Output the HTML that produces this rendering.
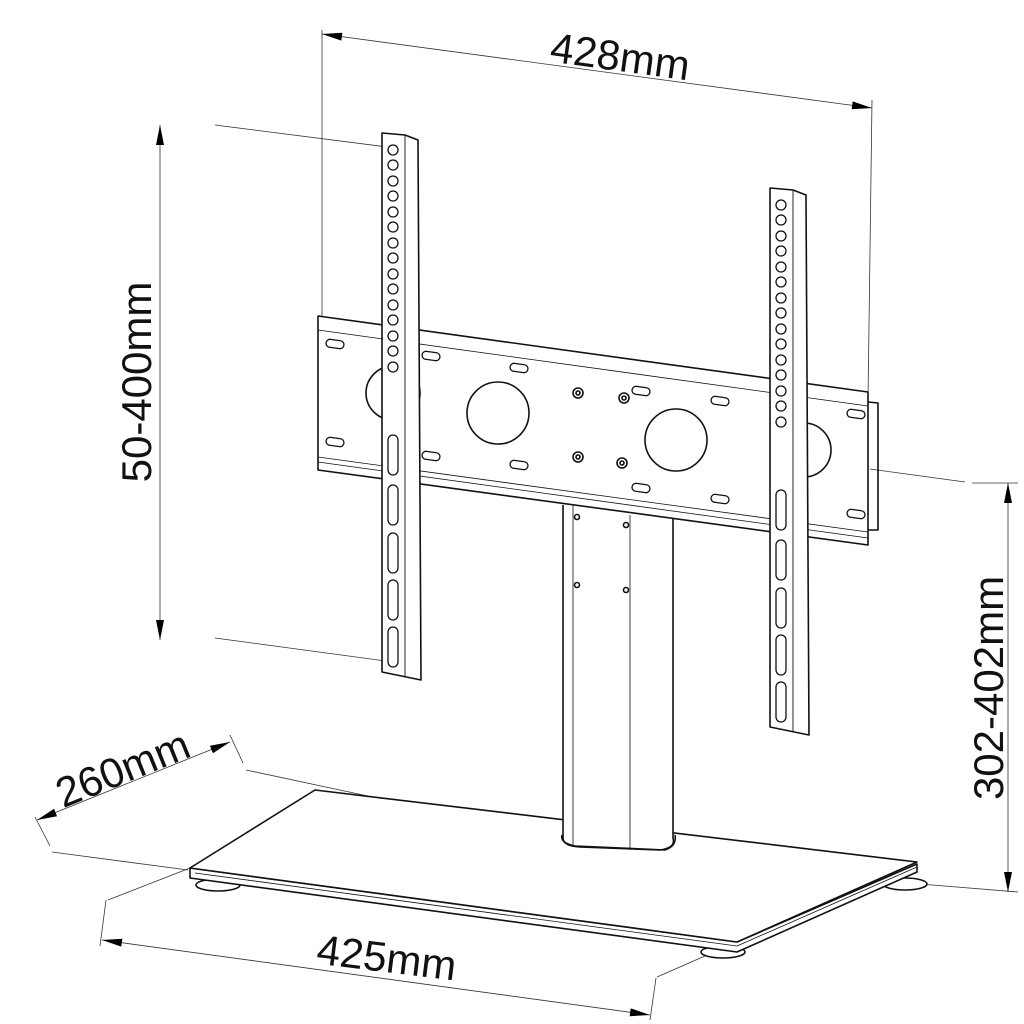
<!DOCTYPE html>
<html><head><meta charset="utf-8"><style>
html,body{margin:0;padding:0;background:#fff;width:1024px;height:1024px;overflow:hidden}
svg{display:block}
text{font-family:"Liberation Sans",sans-serif;fill:#111}
</style></head><body>
<svg width="1024" height="1024" viewBox="0 0 1024 1024" xmlns="http://www.w3.org/2000/svg">
<defs>
<marker id="a" viewBox="0 0 20 8" refX="20" refY="4" markerWidth="22" markerHeight="8" markerUnits="userSpaceOnUse" orient="auto-start-reverse"><path d="M0,0 L20,4 L0,8 z" fill="#000"/></marker>
</defs>
<g stroke="#333" stroke-width="0.8" fill="none">
<line x1="322" y1="30" x2="322" y2="320"/>
<line x1="872" y1="100" x2="868" y2="400"/>
<line x1="322" y1="34" x2="872" y2="108" marker-start="url(#a)" marker-end="url(#a)"/>
<line x1="215" y1="125" x2="395" y2="148"/>
<line x1="215" y1="638" x2="393" y2="662"/>
<line x1="160" y1="125" x2="160" y2="640" marker-start="url(#a)" marker-end="url(#a)"/>
<line x1="870" y1="469" x2="965" y2="482"/>
<line x1="972" y1="483" x2="1018" y2="483"/>
<line x1="920" y1="884" x2="1018" y2="892"/>
<line x1="1008" y1="483" x2="1008" y2="892" marker-start="url(#a)" marker-end="url(#a)"/>
<line x1="35" y1="817" x2="50" y2="846"/>
<line x1="230" y1="735" x2="243" y2="763"/>
<line x1="52" y1="852" x2="188" y2="870"/>
<line x1="246" y1="770" x2="443" y2="812"/>
<line x1="37" y1="820" x2="230" y2="742" marker-start="url(#a)" marker-end="url(#a)"/>
<line x1="106" y1="900" x2="100" y2="946"/>
<line x1="108" y1="900" x2="190" y2="868"/>
<line x1="657" y1="977" x2="730" y2="945"/>
<line x1="656" y1="978" x2="650" y2="1020"/>
<line x1="102" y1="940" x2="650" y2="1015" marker-start="url(#a)" marker-end="url(#a)"/>
</g>
<text x="620" y="71" font-size="42" text-anchor="middle" transform="rotate(7.8 620 58)">428mm</text>
<text x="0" y="0" font-size="42" text-anchor="middle" transform="translate(151 382) rotate(-90)">50-400mm</text>
<text x="0" y="0" font-size="42" text-anchor="middle" transform="translate(1003 688) rotate(-90)">302-402mm</text>
<text x="0" y="0" font-size="42" text-anchor="middle" transform="translate(128 782) rotate(-22)">260mm</text>
<text x="0" y="0" font-size="42" text-anchor="middle" transform="translate(385 972) rotate(7)">425mm</text>

<g stroke="#111" stroke-width="1.6" fill="#fff" stroke-linejoin="round">
<ellipse cx="218" cy="885" rx="22" ry="6"/>
<ellipse cx="905" cy="884" rx="22" ry="6"/>
<ellipse cx="723" cy="952" rx="22" ry="6"/>
<path d="M190,878 L737,952 L917,872 L917,864 L737,942 L190,868 Z"/>
<path d="M190,868 L315,790 L917,862 L737,942 Z"/>
<path d="M195,873 L737,946 L917,867" fill="none" stroke-width="0.8"/>
<path d="M563,505 L563,838 Q563,846 580,847 L660,850 Q676,848 673,838 L673,518"/>
<path d="M562,835 Q560,843 575,846 L665,850 Q677,846 675,835" fill="none"/>
<line x1="573" y1="505" x2="573" y2="845" stroke-width="0.8"/>
<line x1="630" y1="515" x2="630" y2="850" stroke-width="0.8"/>
<circle cx="577" cy="517" r="2.5"/><circle cx="626" cy="525" r="2.5"/>
<circle cx="577" cy="585" r="2.5"/><circle cx="626" cy="590" r="2.5"/>
<path d="M318,316 L868,392 L868,545 L318,470 Z"/>
<path d="M868,402 L878,403 L878,530 L868,530" fill="none"/>
<path d="M318,330 L868,406 M318,457 L868,532 M318,462 L868,538" fill="none" stroke-width="0.8"/>
<circle cx="498" cy="413" r="31"/>
<circle cx="676" cy="440" r="31"/>
<circle cx="393" cy="393" r="27"/>
<circle cx="804" cy="450" r="27"/>
<g stroke-width="1.3">
<rect x="326" y="340" width="18" height="8" rx="4" transform="rotate(8 335 344)"/>
<rect x="326" y="438" width="18" height="8" rx="4" transform="rotate(8 335 442)"/>
<rect x="422" y="352" width="18" height="8" rx="4" transform="rotate(8 431 356)"/>
<rect x="422" y="452" width="18" height="8" rx="4" transform="rotate(8 431 456)"/>
<rect x="510" y="364" width="18" height="8" rx="4" transform="rotate(8 519 368)"/>
<rect x="510" y="461" width="18" height="8" rx="4" transform="rotate(8 519 465)"/>
<rect x="632" y="387" width="18" height="8" rx="4" transform="rotate(8 641 391)"/>
<rect x="632" y="484" width="18" height="8" rx="4" transform="rotate(8 641 488)"/>
<rect x="711" y="397" width="18" height="8" rx="4" transform="rotate(8 720 401)"/>
<rect x="711" y="495" width="18" height="8" rx="4" transform="rotate(8 720 499)"/>
<rect x="847" y="410" width="18" height="8" rx="4" transform="rotate(8 856 414)"/>
<rect x="847" y="510" width="18" height="8" rx="4" transform="rotate(8 856 514)"/>
</g>
<circle cx="578" cy="393" r="5"/><circle cx="578" cy="393" r="2"/>
<circle cx="624" cy="398" r="5"/><circle cx="624" cy="398" r="2"/>
<circle cx="578" cy="457" r="5"/><circle cx="578" cy="457" r="2"/>
<circle cx="622" cy="463" r="5"/><circle cx="622" cy="463" r="2"/>
<path d="M382,133 L405,135 L418,140 L421,680 L382,672 Z"/>
<line x1="405" y1="135" x2="405" y2="676" stroke-width="0.9"/>
<path d="M770,188 L793,190 L806,195 L809,735 L770,727 Z"/>
<line x1="793" y1="190" x2="793" y2="731" stroke-width="0.9"/>
</g>
<g stroke="#111" stroke-width="1.3" fill="#fff">
<circle cx="393" cy="150" r="5"/><circle cx="393" cy="165" r="5"/><circle cx="393" cy="181" r="5"/><circle cx="393" cy="196" r="5"/><circle cx="393" cy="212" r="5"/><circle cx="393" cy="227" r="5"/><circle cx="393" cy="243" r="5"/><circle cx="393" cy="258" r="5"/><circle cx="393" cy="274" r="5"/><circle cx="393" cy="289" r="5"/><circle cx="393" cy="305" r="5"/><circle cx="393" cy="320" r="5"/><circle cx="393" cy="336" r="5"/><circle cx="393" cy="351" r="5"/><circle cx="393" cy="367" r="5"/>
<circle cx="781" cy="205" r="5"/><circle cx="781" cy="220" r="5"/><circle cx="781" cy="236" r="5"/><circle cx="781" cy="251" r="5"/><circle cx="781" cy="267" r="5"/><circle cx="781" cy="282" r="5"/><circle cx="781" cy="298" r="5"/><circle cx="781" cy="313" r="5"/><circle cx="781" cy="329" r="5"/><circle cx="781" cy="344" r="5"/><circle cx="781" cy="360" r="5"/><circle cx="781" cy="375" r="5"/><circle cx="781" cy="391" r="5"/><circle cx="781" cy="406" r="5"/><circle cx="781" cy="422" r="5"/>
<rect x="388" y="435" width="10" height="40" rx="5"/>
<rect x="388" y="485" width="10" height="40" rx="5"/>
<rect x="388" y="533" width="10" height="40" rx="5"/>
<rect x="388" y="580" width="10" height="40" rx="5"/>
<rect x="388" y="627" width="10" height="40" rx="5"/>
<rect x="776" y="490" width="10" height="40" rx="5"/>
<rect x="776" y="540" width="10" height="40" rx="5"/>
<rect x="776" y="588" width="10" height="40" rx="5"/>
<rect x="776" y="635" width="10" height="40" rx="5"/>
<rect x="776" y="682" width="10" height="40" rx="5"/>
</g>
</svg>
</body></html>
